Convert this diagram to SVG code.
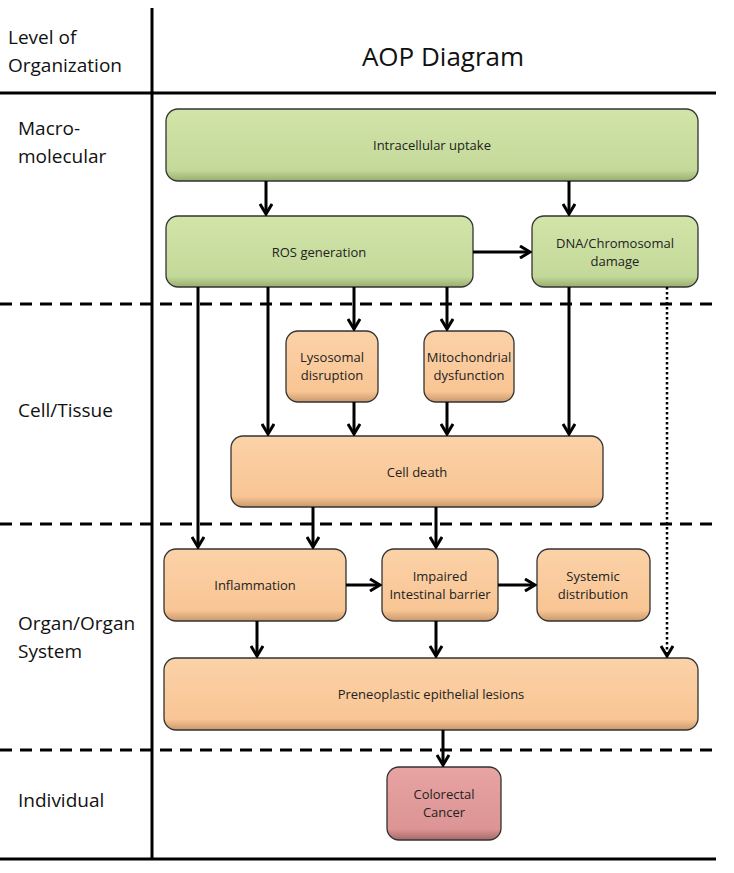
<svg xmlns="http://www.w3.org/2000/svg" width="734" height="873" viewBox="0 0 734 873">
<style>
.lbl{font-family:"Open Sans","Liberation Sans",sans-serif;font-size:19px;fill:#111}
.t{font-family:"Open Sans","Liberation Sans",sans-serif;font-size:13px;fill:#222;text-anchor:middle}
.g{fill:url(#gg);stroke:#333;stroke-width:1.3}
.o{fill:url(#go);stroke:#333;stroke-width:1.3}
.r{fill:url(#gr);stroke:#333;stroke-width:1.3}
.c{stroke:#000;stroke-width:3;fill:none}
.d{stroke:#000;stroke-width:2.5;fill:none}
</style>
<defs>
<linearGradient id="gg" x1="0" y1="0" x2="0" y2="1"><stop offset="0" stop-color="#d3e4a8"/><stop offset="0.85" stop-color="#c3d99a"/><stop offset="1" stop-color="#98ad6e"/></linearGradient>
<linearGradient id="go" x1="0" y1="0" x2="0" y2="1"><stop offset="0" stop-color="#fbd2a8"/><stop offset="0.85" stop-color="#f9c594"/><stop offset="1" stop-color="#c9996c"/></linearGradient>
<linearGradient id="gr" x1="0" y1="0" x2="0" y2="1"><stop offset="0" stop-color="#e8a3a3"/><stop offset="0.85" stop-color="#dc9494"/><stop offset="1" stop-color="#a86a6a"/></linearGradient>
<marker id="ah2" markerWidth="14" markerHeight="14" refX="12" refY="7" orient="auto" markerUnits="userSpaceOnUse"><path d="M2,1 L12,7 L2,13" fill="none" stroke="#000" stroke-width="3"/></marker>
</defs>
<g id="frame">
<line x1="152" y1="8" x2="152" y2="860" stroke="#000" stroke-width="3"/>
<line x1="0" y1="93" x2="716" y2="93" stroke="#000" stroke-width="3"/>
<line x1="0" y1="859" x2="716" y2="859" stroke="#000" stroke-width="3"/>
<line x1="0" y1="304" x2="716" y2="304" stroke="#000" stroke-width="3" stroke-dasharray="12,8"/>
<line x1="0" y1="524" x2="716" y2="524" stroke="#000" stroke-width="3" stroke-dasharray="12,8"/>
<line x1="0" y1="750" x2="716" y2="750" stroke="#000" stroke-width="3" stroke-dasharray="12,8"/>
<text class="lbl" x="8" y="44">Level of</text>
<text class="lbl" x="8" y="72">Organization</text>
<text class="lbl" x="443" y="66" text-anchor="middle" style="font-size:26px">AOP Diagram</text>
<text class="lbl" x="18" y="135">Macro-</text>
<text class="lbl" x="18" y="163">molecular</text>
<text class="lbl" x="18" y="417">Cell/Tissue</text>
<text class="lbl" x="18" y="630">Organ/Organ</text>
<text class="lbl" x="18" y="658">System</text>
<text class="lbl" x="18" y="807">Individual</text>
</g>
<g id="n1"><rect class="g" x="166" y="109" width="532" height="72" rx="12"/><text class="t" x="432" y="150">Intracellular uptake</text></g>
<g id="n2"><rect class="g" x="166" y="216" width="307" height="71" rx="12"/><text class="t" x="319" y="257">ROS generation</text></g>
<g id="n3"><rect class="g" x="532" y="216" width="166" height="71" rx="12"/><text class="t" x="615" y="248">DNA/Chromosomal</text><text class="t" x="615" y="266">damage</text></g>
<g id="n4"><rect class="o" x="286" y="331" width="92" height="71" rx="12"/><text class="t" x="332" y="362">Lysosomal</text><text class="t" x="332" y="380">disruption</text></g>
<g id="n5"><rect class="o" x="424" y="331" width="90" height="71" rx="12"/><text class="t" x="469" y="362">Mitochondrial</text><text class="t" x="469" y="380">dysfunction</text></g>
<g id="n6"><rect class="o" x="231" y="436" width="372" height="71" rx="12"/><text class="t" x="417" y="477">Cell death</text></g>
<g id="n7"><rect class="o" x="164" y="549" width="182" height="72" rx="12"/><text class="t" x="255" y="590">Inflammation</text></g>
<g id="n8"><rect class="o" x="382" y="549" width="116" height="72" rx="12"/><text class="t" x="440" y="581">Impaired</text><text class="t" x="440" y="599">Intestinal barrier</text></g>
<g id="n9"><rect class="o" x="537" y="549" width="113" height="72" rx="12"/><text class="t" x="593" y="581">Systemic</text><text class="t" x="593" y="599">distribution</text></g>
<g id="n10"><rect class="o" x="164" y="658" width="534" height="72" rx="12"/><text class="t" x="431" y="699">Preneoplastic epithelial lesions</text></g>
<g id="n11"><rect class="r" x="387" y="767" width="114" height="73" rx="12"/><text class="t" x="444" y="799">Colorectal</text><text class="t" x="444" y="817">Cancer</text></g>
<g id="connectors" marker-end="url(#ah2)">
<line class="c" x1="266" y1="181" x2="266" y2="214"/>
<line class="c" x1="569" y1="181" x2="569" y2="214"/>
<line class="c" x1="473" y1="252" x2="530" y2="252"/>
<line class="c" x1="198" y1="287" x2="198" y2="547"/>
<line class="c" x1="268" y1="287" x2="268" y2="434"/>
<line class="c" x1="354" y1="287" x2="354" y2="329"/>
<line class="c" x1="447" y1="287" x2="447" y2="329"/>
<line class="c" x1="569" y1="287" x2="569" y2="434"/>
<line class="d" x1="667" y1="287" x2="667" y2="656" stroke-dasharray="2.5,2.5"/>
<line class="c" x1="354" y1="402" x2="354" y2="434"/>
<line class="c" x1="447" y1="402" x2="447" y2="434"/>
<line class="c" x1="313" y1="507" x2="313" y2="547"/>
<line class="c" x1="436" y1="507" x2="436" y2="547"/>
<line class="c" x1="346" y1="585" x2="380" y2="585"/>
<line class="c" x1="498" y1="585" x2="535" y2="585"/>
<line class="c" x1="257" y1="621" x2="257" y2="656"/>
<line class="c" x1="436" y1="621" x2="436" y2="656"/>
<line class="c" x1="443" y1="730" x2="443" y2="765"/>
</g>
</svg>
